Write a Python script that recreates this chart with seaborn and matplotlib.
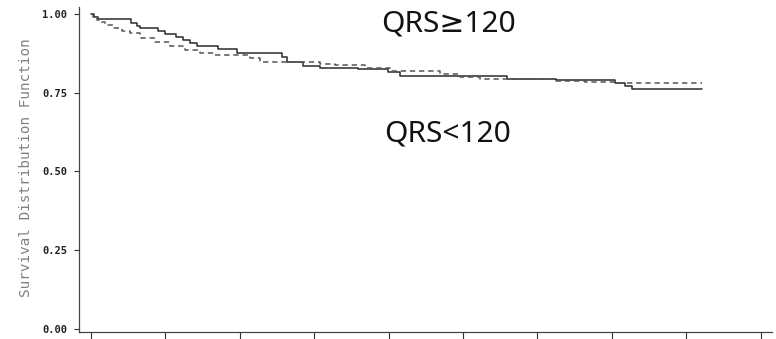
import matplotlib
matplotlib.use("Agg")
import matplotlib.pyplot as plt
import numpy as np
import pandas as pd
import seaborn as sns

# Kaplan-Meier step estimates (time in years, survival after each step)
solid_time = [0.0, 0.040, 0.094, 0.538, 0.618, 0.659, 0.901, 0.995, 1.142, 1.237,
              1.331, 1.425, 1.707, 1.962, 2.567, 2.634, 2.849, 3.078, 3.589, 3.992,
              4.153, 5.591, 6.250, 7.043, 7.177, 7.272, 8.212]
solid_surv = [1.000, 0.990, 0.984, 0.971, 0.962, 0.956, 0.946, 0.937, 0.927, 0.917,
              0.908, 0.898, 0.889, 0.876, 0.863, 0.848, 0.835, 0.829, 0.825, 0.816,
              0.803, 0.794, 0.790, 0.781, 0.771, 0.762, 0.762]

dashed_time = [0.0, 0.027, 0.081, 0.121, 0.188, 0.296, 0.417, 0.524, 0.659, 0.860,
               1.062, 1.263, 1.465, 1.667, 2.137, 2.272, 3.078, 3.280, 3.683, 4.019,
               4.691, 4.960, 5.228, 6.237, 6.640, 7.043, 8.212]
dashed_surv = [1.000, 0.990, 0.981, 0.975, 0.965, 0.956, 0.946, 0.940, 0.924, 0.911,
               0.898, 0.886, 0.876, 0.870, 0.860, 0.848, 0.841, 0.838, 0.829, 0.819,
               0.810, 0.800, 0.794, 0.787, 0.784, 0.781, 0.781]

x_ticks = list(range(10))
y_ticks = [0.00, 0.25, 0.50, 0.75, 1.00]
y_tick_labels = ["0.00", "0.25", "0.50", "0.75", "1.00"]
group_labels = ["QRS\u2265120", "QRS<120"]
y_title = "Survival Distribution Function"

sns.set_theme(style="ticks")
plt.rcParams["font.family"] = ["DejaVu Sans"]

fig = plt.figure(figsize=(7.76, 3.39), dpi=100)
ax = fig.add_axes([0.1018, 0.0206, 0.8930, 0.9587])

line_color = "#2b2b2b"
df_solid = pd.DataFrame({"time": solid_time, "surv": solid_surv})
df_dashed = pd.DataFrame({"time": dashed_time, "surv": dashed_surv})

sns.lineplot(data=df_solid, x="time", y="surv", ax=ax, color=line_color,
             linewidth=1.1, drawstyle="steps-post", sort=False, estimator=None)
sns.lineplot(data=df_dashed, x="time", y="surv", ax=ax, color="#555555",
             linewidth=1.1, drawstyle="steps-post", sort=False, estimator=None,
             linestyle=(0, (3.5, 2.5)))

ax.set_xlim(-0.161, 9.153)
ax.set_ylim(-0.0095, 1.022)

ax.set_xticks(x_ticks)
ax.set_xticklabels([])
ax.set_yticks(y_ticks)
ax.set_yticklabels(y_tick_labels, fontfamily="DejaVu Sans Mono",
                   fontweight="bold", fontsize=7.5, color="#222222")

ax.tick_params(axis="x", direction="out", length=5, width=0.8, colors="#333333")
ax.tick_params(axis="y", direction="out", length=3.5, width=0.8, colors="#333333",
               pad=5)
ax.tick_params(axis="y", labelcolor="#222222")

for side in ("top", "right"):
    ax.spines[side].set_visible(False)
for side in ("left", "bottom"):
    ax.spines[side].set_color("#444444")
    ax.spines[side].set_linewidth(0.9)

ax.set_xlabel("")
ax.set_ylabel("")
fig.text(0.033, 0.507, y_title, rotation=90, ha="center", va="center",
         fontfamily="DejaVu Sans Mono", fontsize=10.3, color="#808080")

label_fonts = ["Noto Sans", "DejaVu Sans"]
ax.text(3.898, 0.943, group_labels[0], ha="left", va="baseline",
        family=label_fonts, fontsize=21.5, color="#111111")
ax.text(3.94, 0.594, group_labels[1], ha="left", va="baseline",
        family=label_fonts, fontsize=21.5, color="#111111")

fig.savefig("out.png", dpi=100, facecolor="white")
